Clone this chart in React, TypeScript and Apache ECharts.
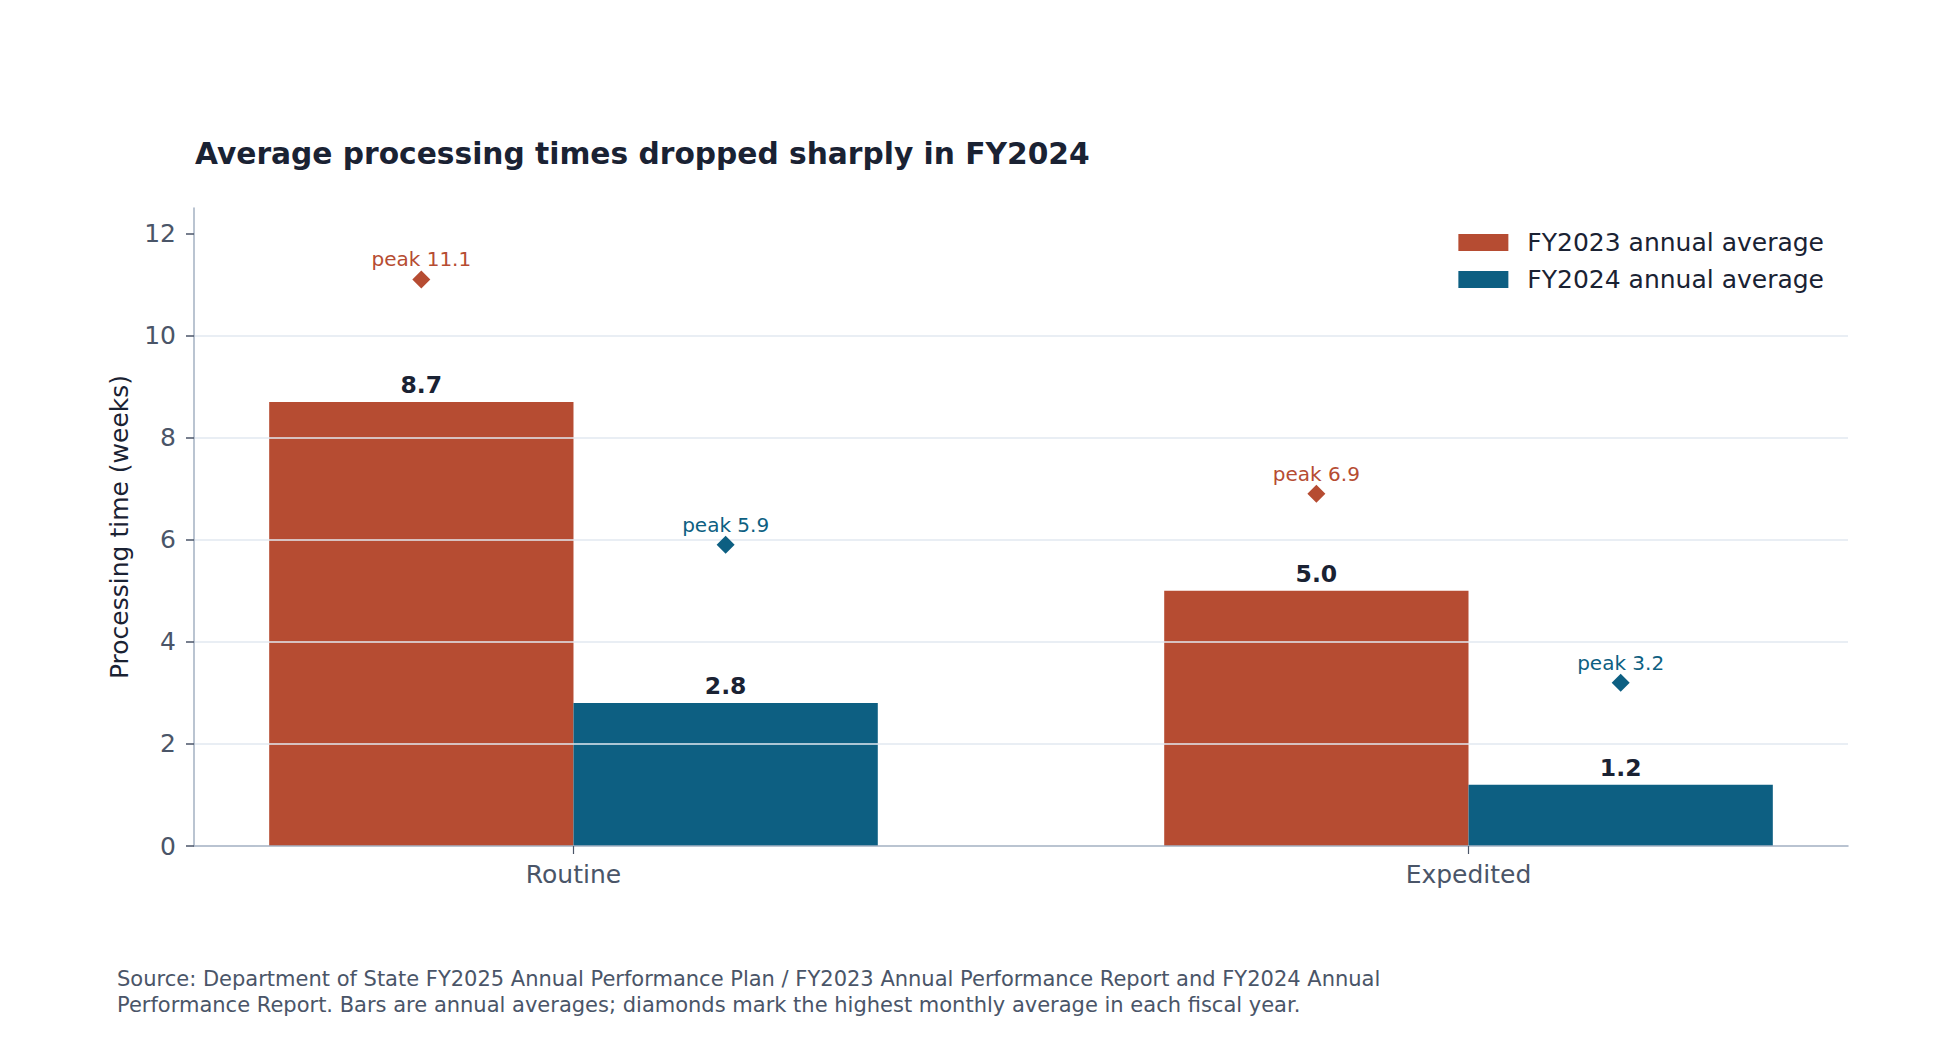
import React, { useEffect, useRef } from "react";
import * as echarts from "echarts";

const categories = ["Routine", "Expedited"];
const fy2023Average = [8.7, 5.0];
const fy2024Average = [2.8, 1.2];
const fy2023Peak = [11.1, 6.9];
const fy2024Peak = [5.9, 3.2];
const yTicks = [0, 2, 4, 6, 8, 10, 12];
const seriesNames = ["FY2023 annual average", "FY2024 annual average"];

const titleText = "Average processing times dropped sharply in FY2024";
const sourceText =
  "Source: Department of State FY2025 Annual Performance Plan / FY2023 Annual Performance Report and FY2024 Annual\nPerformance Report. Bars are annual averages; diamonds mark the highest monthly average in each fiscal year.";

const RED = "#b64c32";
const BLUE = "#0d5f82";
const DARK = "#1a2233";
const SLATE = "#4a5568";
const AXIS = "#a3b0c2";
const GRID = "#e2e8f0";
const FONT = "DejaVu Sans";

const BAR_FRAC = 0.34;

export default function App() {
  const ref = useRef<HTMLDivElement>(null);
  useEffect(() => {
    document.body.style.margin = "0";
    document.body.style.overflow = "hidden";
    const chart = echarts.init(ref.current!, null, { renderer: "svg" });
    const idx = categories.map((_, i) => i);
    const valueLabel = {
      show: true,
      position: "top",
      distance: 5,
      formatter: (p: any) => Number(p.value[1]).toFixed(1),
      fontSize: 23.5,
      fontWeight: "bold",
      color: DARK,
      fontFamily: FONT,
    };
    const peakLabel = (color: string) => ({
      show: true,
      position: "top",
      distance: 1,
      formatter: (p: any) => "peak " + Number(p.value[1]).toFixed(1),
      fontSize: 20,
      color,
      opacity: 1,
      fontFamily: FONT,
    });
    const option: any = {
      animation: false,
      backgroundColor: "#ffffff",
      textStyle: { fontFamily: FONT },
      title: [
        {
          text: titleText,
          left: 195,
          top: 138,
          padding: 0,
          textStyle: { fontSize: 29.7, fontWeight: "bold", color: DARK, fontFamily: FONT },
        },
        {
          text: sourceText,
          left: 117,
          top: 966,
          padding: 0,
          textStyle: { fontSize: 21, fontWeight: "normal", color: SLATE, lineHeight: 26, fontFamily: FONT },
        },
      ],
      legend: {
        data: seriesNames,
        orient: "vertical",
        right: 120,
        top: 230,
        padding: 0,
        itemWidth: 50,
        itemHeight: 17,
        itemGap: 12,
        icon: "rect",
        selectedMode: false,
        textStyle: { fontSize: 25, color: DARK, fontFamily: FONT, padding: [0, 0, 0, 14] },
      },
      grid: { left: 194, right: 96, top: 208, bottom: 198, containLabel: false },
      xAxis: {
        type: "value",
        min: -0.424,
        max: 1.424,
        z: 3,
        axisLine: { show: true, onZero: false, lineStyle: { color: AXIS, width: 1.5 } },
        axisTick: { show: true, customValues: idx, length: 8, lineStyle: { color: SLATE, width: 1.2 } },
        axisLabel: {
          customValues: idx,
          formatter: (v: number) => categories[Math.round(v)] ?? "",
          color: SLATE,
          fontSize: 25,
          margin: 16,
          fontFamily: FONT,
        },
        splitLine: { show: false },
      },
      yAxis: {
        type: "value",
        min: 0,
        max: 12.5,
        interval: 2,
        z: 3,
        name: "Processing time (weeks)",
        nameLocation: "middle",
        nameGap: 62,
        nameTextStyle: { fontSize: 25, color: DARK, fontFamily: FONT },
        axisLine: { show: true, onZero: false, lineStyle: { color: AXIS, width: 1.5 } },
        axisTick: { show: true, customValues: yTicks, length: 8, lineStyle: { color: SLATE, width: 1.5 } },
        axisLabel: { customValues: yTicks, color: SLATE, fontSize: 25, margin: 18, fontFamily: FONT },
        splitLine: { show: true, showMinLine: false, showMaxLine: false, lineStyle: { color: GRID, width: 1.5 } },
      },
      series: [
        {
          name: seriesNames[0],
          type: "bar",
          z: 2,
          barWidth: BAR_FRAC * 100 + "%",
          barGap: "0%",
          itemStyle: { color: RED, opacity: 1 },
          data: fy2023Average.map((v, i) => [i, v]),
          label: valueLabel,
        },
        {
          name: seriesNames[1],
          type: "bar",
          z: 2,
          barWidth: BAR_FRAC * 100 + "%",
          barGap: "0%",
          itemStyle: { color: BLUE, opacity: 1 },
          data: fy2024Average.map((v, i) => [i, v]),
          label: valueLabel,
        },
        {
          name: "FY2023 peak",
          type: "scatter",
          z: 5,
          symbol: "diamond",
          symbolSize: 18,
          itemStyle: { color: RED, opacity: 1 },
          data: fy2023Peak.map((v, i) => [i - BAR_FRAC / 2, v]),
          label: peakLabel(RED),
        },
        {
          name: "FY2024 peak",
          type: "scatter",
          z: 5,
          symbol: "diamond",
          symbolSize: 18,
          itemStyle: { color: BLUE, opacity: 1 },
          data: fy2024Peak.map((v, i) => [i + BAR_FRAC / 2, v]),
          label: peakLabel(BLUE),
        },
      ],
    };
    chart.setOption(option);
    return () => chart.dispose();
  }, []);
  return <div ref={ref} style={{ width: 1944, height: 1044, background: "#fff" }} />;
}
